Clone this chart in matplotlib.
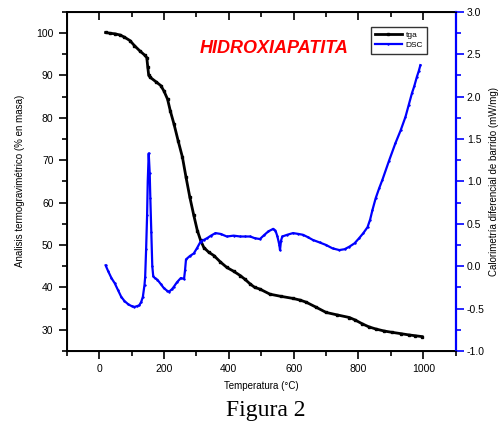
import matplotlib
matplotlib.use("Agg")
import matplotlib.pyplot as plt
from matplotlib.ticker import MultipleLocator

plt.rcParams['font.family'] = ['Liberation Sans', 'DejaVu Sans']

# TGA curve (% mass vs temperature)
tga_temp = [20, 35, 48, 65, 78, 95, 109, 125, 140, 147, 150, 153, 158, 175, 190,
            200, 211, 220, 231, 244, 257, 268, 280, 292, 303, 313, 323, 338, 354,
            374, 394, 415, 435, 450, 466, 480, 496, 527, 560, 598, 620, 639, 670,
            700, 735, 772, 790, 812, 832, 853, 880, 904, 930, 955, 975, 996]
tga_mass = [100.1, 99.9, 99.8, 99.5, 99.0, 98.2, 97.0, 95.8, 94.8, 94.2, 92.0,
            90.0, 89.5, 88.5, 87.6, 86.3, 84.4, 81.5, 78.5, 74.5, 70.7, 66.0,
            61.2, 57.0, 53.4, 51.1, 49.4, 48.3, 47.5, 46.0, 44.7, 43.8, 42.8,
            41.9, 40.8, 40.0, 39.6, 38.4, 37.9, 37.4, 37.0, 36.5, 35.3, 34.1,
            33.5, 32.9, 32.3, 31.4, 30.7, 30.2, 29.7, 29.4, 29.1, 28.8, 28.6, 28.4]

# DSC curve (mW/mg vs temperature)
dsc_temp = [20, 28, 38, 48, 58, 68, 78, 90, 100, 109, 118, 124, 130, 135, 140,
            142, 145, 148, 150, 153, 156, 158, 161, 164, 167, 172, 180, 190, 200,
            210, 216, 225, 231, 240, 252, 262, 265, 268, 280, 292, 303, 313, 323,
            333, 345, 359, 375, 394, 415, 435, 450, 466, 480, 496, 510, 522, 537,
            544, 550, 556, 558, 561, 565, 580, 598, 615, 629, 645, 659, 680, 700,
            720, 741, 757, 772, 788, 802, 815, 828, 836, 843, 853, 864, 874, 894,
            914, 930, 945, 955, 965, 972, 980, 986, 991]
dsc_val = [0.01, -0.06, -0.14, -0.20, -0.28, -0.36, -0.41, -0.45, -0.47, -0.48,
           -0.47, -0.46, -0.42, -0.36, -0.22, -0.13, 0.20, 0.60, 1.00, 1.33, 1.10,
           0.80, 0.40, 0.00, -0.12, -0.14, -0.16, -0.21, -0.26, -0.29, -0.30,
           -0.27, -0.24, -0.19, -0.14, -0.15, -0.05, 0.08, 0.12, 0.15, 0.22, 0.29,
           0.31, 0.33, 0.36, 0.39, 0.38, 0.35, 0.36, 0.35, 0.35, 0.35, 0.33, 0.32,
           0.37, 0.41, 0.44, 0.42, 0.35, 0.25, 0.19, 0.30, 0.35, 0.37, 0.39, 0.38,
           0.37, 0.34, 0.31, 0.28, 0.25, 0.21, 0.19, 0.20, 0.23, 0.27, 0.33, 0.39,
           0.46, 0.55, 0.66, 0.80, 0.92, 1.02, 1.24, 1.45, 1.60, 1.76, 1.90, 2.04,
           2.12, 2.23, 2.30, 2.37]

fig = plt.figure(figsize=(5.03, 4.29), dpi=100)
ax = fig.add_axes([0.1326, 0.1818, 0.7734, 0.7909])
ax2 = ax.twinx()

l1, = ax.plot(tga_temp, tga_mass, color='black', lw=2, marker='s', ms=1.5, label='tga')
l2, = ax2.plot(dsc_temp, dsc_val, color='blue', lw=1.6, marker='+', ms=2, label='DSC')

ax.set_xlim(-100, 1100)
ax.set_ylim(25, 105)
ax2.set_ylim(-1, 3)

ax.xaxis.set_major_locator(MultipleLocator(200))
ax.xaxis.set_minor_locator(MultipleLocator(100))
ax.yaxis.set_major_locator(MultipleLocator(10))
ax.yaxis.set_minor_locator(MultipleLocator(5))
ax.set_yticks(range(30, 101, 10))
ax2.yaxis.set_major_locator(MultipleLocator(0.5))
ax2.yaxis.set_minor_locator(MultipleLocator(0.25))
ax2.yaxis.set_major_formatter(matplotlib.ticker.FormatStrFormatter('%.1f'))

ax.tick_params(axis='both', which='major', direction='out', length=6, width=1.2, labelsize=7.5)
ax.tick_params(axis='both', which='minor', direction='out', length=3.5, width=1.2)
ax.tick_params(axis='x', which='both', top=True, labeltop=False)
ax2.tick_params(axis='y', which='major', direction='out', length=6, width=1.2,
                colors='blue', labelcolor='black', labelsize=7.5, pad=2)
ax2.tick_params(axis='y', which='minor', direction='out', length=3.5, width=1.2, colors='blue')

# top ticks point inward
for t in ax.xaxis.get_major_ticks() + ax.xaxis.get_minor_ticks():
    t.tick2line.set_marker(matplotlib.lines.TICKDOWN)

for s in ['left', 'bottom', 'top']:
    ax.spines[s].set_linewidth(1.4)
ax2.spines['right'].set_color('blue')
ax2.spines['right'].set_linewidth(1.6)
ax.spines['right'].set_visible(False)

ax.set_ylabel('Analisis termogravimétrico (% en masa)', fontsize=7, labelpad=8)
ax2.set_ylabel('Calorimetría diferencial de barrido (mW/mg)', fontsize=7, labelpad=3)
ax.set_xlabel('Temperatura (°C)', fontsize=7, labelpad=5)

ax.text(539, 96.3, 'HIDROXIAPATITA', color='red', fontsize=13, fontweight='bold',
        fontstyle='italic', ha='center', va='center')

leg = fig.legend(handles=[l1, l2], loc='upper left', bbox_to_anchor=(0.737, 0.938),
                 fontsize=6, frameon=True, fancybox=False, edgecolor='black',
                 handlelength=3.2, borderpad=0.5, labelspacing=0.35, handletextpad=0.5,
                 borderaxespad=0)
leg.get_frame().set_linewidth(1.0)

fig.text(0.529, 0.044, 'Figura 2', fontsize=17, family='Liberation Serif',
         ha='center', va='center')

fig.savefig('out.png', dpi=100)
